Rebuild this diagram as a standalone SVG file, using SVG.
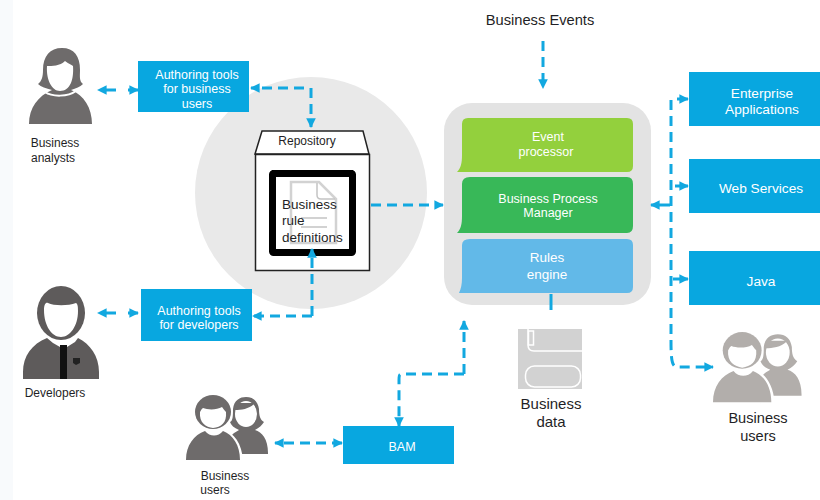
<svg xmlns="http://www.w3.org/2000/svg" width="820" height="500" viewBox="0 0 820 500">
<style>
text{font-family:"Liberation Sans",Arial,sans-serif;text-anchor:middle}
.w{fill:#fff}.d{fill:#1f1f26}
.box{fill:#08a7e0}
.c{fill:none;stroke:#12a8e0;stroke-width:3;stroke-dasharray:10 6}
.g{stroke-dasharray:10 12}
.s{fill:none;stroke:#12a8e0;stroke-width:3}
.l{text-anchor:start}
</style>
<defs>
<marker id="a" viewBox="0 0 10 10" refX="9" refY="5" markerWidth="3.200" markerHeight="3.200" orient="auto-start-reverse"><path d="M0 0L10 5L0 10z" fill="#12a8e0"/></marker>
<g id="pair">
<path d="M44 66V44C46 38 50 37 53 35C48 33 45 30 44 27C47 26 47 20 47 14C48 5 54 2 60 2C67 2 72 6 73 14C73 20 74 25 78 27C76 30 73 33 69 35C76 37 82 44 82 58V59H53Z"/>
<ellipse cx="60" cy="19" rx="11" ry="13" fill="#fff"/>
<path d="M49 15C55 15 63 14 68 9C70 12 71 14 71 17V8H49Z"/>
<path d="M-1 66C-1 48 8 38 20 34C24 40 32 40 37 34C48 38 56 48 57 66Z" fill="#fff"/>
<path d="M0 65C0 50 8 40 19 36C24 42 32 42 37 36C47 40 54 50 54 65Z"/>
<ellipse cx="27" cy="17" rx="18" ry="17"/>
<path d="M14 17C13 28 20 32 27 33C35 32 41 28 40 17C38 15 37 13 36 12C31 15 22 15 17 13C15 14 15 16 14 17Z" fill="#fff"/>
</g>
</defs>
<rect width="820" height="500" fill="#fff"/>
<rect width="13" height="500" fill="#f8fafc"/>
<g id="hub"><circle cx="311" cy="193" r="116" fill="#e9e9e9"/></g>

<g id="analyst" fill="#6e6b6b">
<path d="M29 124C29 108 38 96 52 90C46 88 41 87 38 84C42 81 43 76 43 70C43 56 50 48 62 48C74 48 80 56 80 70C80 76 79 81 83 84C80 87 76 88 71 90C84 95 92 108 92 124Z"/>
<path d="M47 66C52 66 60 66 65 61C69 64 72 65 73 66C74 80 70 91 60 91C52 91 46 80 47 66Z" fill="#fff"/>
<path d="M45 92C52 97 68 97 76 91" fill="none" stroke="#fff" stroke-width="2"/>
<text x="55" y="147" font-size="12" fill="#1f1f26">Business</text>
<text x="53" y="162" font-size="12" fill="#1f1f26">analysts</text>
</g>

<g id="authoring-business"><rect class="box" x="138" y="61" width="111" height="51"/>
<text class="w" x="197" y="79" font-size="12.500">Authoring tools</text><text class="w" x="197" y="93" font-size="12.500">for business</text><text class="w" x="197" y="108" font-size="12.500">users</text></g>

<g id="repository">
<path d="M255 154L262 131H363L369 154Z" fill="#fff" stroke="#222" stroke-width="1.500"/>
<rect x="255.500" y="154.500" width="114" height="116" fill="#fff" stroke="#222" stroke-width="1.500"/>
<text class="d" x="307" y="145" font-size="12">Repository</text>
<rect x="272.500" y="173.500" width="80" height="79" rx="1" fill="#fff" stroke="#000" stroke-width="7"/>
<rect x="272" y="170" width="81" height="7"/>
<path d="M291 182H319L336 199V243H291Z" fill="none" stroke="#d2d2d2" stroke-width="2.500"/>
<path d="M317 183V195Q317 199 321 199H335M301 218H327M301 227H327" fill="none" stroke="#c4c4c4" stroke-width="1.500"/>
<text class="d l" x="282" y="209" font-size="13.500">Business</text>
<text class="d l" x="282" y="225" font-size="13.500">rule</text>
<text class="d l" x="282" y="242" font-size="13.500">definitions</text>
</g>

<g id="developer" fill="#5e5b5b">
<path d="M23 379V372C23 356 32 344 47 338L53 343L60 347V379Z"/>
<path d="M67 379V347L75 342L78 338C90 344 99 356 99 372V379Z"/>
<path d="M60 345H67V379H60Z" fill="#111"/>
<path d="M73 358H80V363L76 365L73 363Z" fill="#222"/>
<ellipse cx="61" cy="313" rx="24" ry="27"/>
<path d="M44 310C44 304 46 302 48 303C54 306 68 306 76 303C78 304 78 308 78 311C78 326 70 337 61 337C52 337 44 326 44 310Z" fill="#fff"/>
<text x="55" y="397" font-size="12" fill="#1f1f26">Developers</text>
</g>

<g id="authoring-developers"><rect class="box" x="141" y="289" width="111" height="52"/>
<text class="w" x="199" y="315" font-size="12.500">Authoring tools</text><text class="w" x="199" y="329" font-size="12.500">for developers</text></g>

<g id="engine-panel"><rect x="444" y="103" width="207" height="202" rx="28" fill="#e3e3e3"/></g>
<g id="event-processor"><path d="M457 172C461 168 462 163 462 155V124Q462 118 468 118H627Q633 118 633 124V166Q633 172 627 172Z" fill="#93d03d"/>
<text class="w" x="548" y="141" font-size="12.500">Event</text><text class="w" x="546" y="156" font-size="12.500">processor</text></g>
<g id="bpm"><path d="M457 233C461 229 462 224 462 216V184Q462 177 470 177H627Q633 177 633 184V226Q633 233 627 233Z" fill="#38b858"/>
<text class="w" x="548" y="203" font-size="12.500">Business Process</text><text class="w" x="548" y="217" font-size="12.500">Manager</text></g>
<g id="rules-engine"><path d="M459 293C461 289 462 284 462 278V245Q462 239 470 239H627Q633 239 633 245V287Q633 293 627 293Z" fill="#62b9e8"/>
<text class="w" x="547" y="262" font-size="13.500">Rules</text><text class="w" x="547" y="279" font-size="13.500">engine</text></g>

<g id="business-events"><text class="d" x="540" y="25" font-size="14.700">Business Events</text></g>

<g id="enterprise"><rect class="box" x="689" y="72" width="131" height="54"/><text class="w" x="762" y="98" font-size="13.700">Enterprise</text><text class="w" x="762" y="114" font-size="13.700">Applications</text></g>
<g id="web"><rect class="box" x="689" y="159" width="131" height="54"/><text class="w" x="761" y="193" font-size="13.700">Web Services</text></g>
<g id="java"><rect class="box" x="689" y="251" width="131" height="54"/><text class="w" x="761" y="286" font-size="13.700">Java</text></g>

<g id="business-data">
<rect x="518" y="329" width="64" height="60" fill="#d2d2d2"/>
<path d="M528 329V345Q528 351 534 351H583" fill="none" stroke="#fff" stroke-width="1.500"/>
<rect x="528.500" y="331" width="5" height="14" fill="none" stroke="#fff" stroke-width="1.500"/>
<rect x="525.500" y="366" width="55" height="21" rx="9" fill="none" stroke="#fff" stroke-width="1.500"/>
<text class="d" x="551" y="409" font-size="15">Business</text><text class="d" x="551" y="427" font-size="15">data</text>
</g>

<g id="users-right" fill="#b2aeab"><use href="#pair" transform="translate(713 332) scale(1.080)"/>
<text class="d" x="758" y="423" font-size="14.600">Business</text><text class="d" x="758" y="441" font-size="14.600">users</text></g>

<g id="users-left" fill="#6e6b6b"><use href="#pair" transform="translate(186 395)"/>
<text class="d" x="225" y="480" font-size="12">Business</text><text class="d" x="215" y="494" font-size="12">users</text></g>

<g id="bam"><rect class="box" x="343" y="426" width="111" height="38"/><text class="w" x="402" y="451" font-size="12.500">BAM</text></g>

<g id="connectors">
<path class="c g" d="M138 90H98" marker-start="url(#a)" marker-end="url(#a)"/>
<path class="c" d="M311 88V127" marker-end="url(#a)"/>
<path class="c" d="M304 88H251" marker-end="url(#a)"/>
<path class="c" d="M371 205H443" marker-end="url(#a)"/>
<path class="c" d="M312 316V249" marker-end="url(#a)"/>
<path class="c" d="M312 316H253" marker-end="url(#a)"/>
<path class="c g" d="M138 313H98" marker-start="url(#a)" marker-end="url(#a)"/>
<path class="c" d="M543 41V88" marker-end="url(#a)"/>
<path class="c" d="M671 100V340C671 362 672 367 678 367H713" marker-end="url(#a)"/>
<path class="s" d="M677 99H688" marker-end="url(#a)"/>
<path class="s" d="M675 186H688" marker-end="url(#a)"/>
<path class="s" d="M673 279H688" marker-end="url(#a)"/>
<path class="s" d="M670 205H651" marker-end="url(#a)"/>
<path class="s" d="M551 294V310"/>
<path class="c" d="M464 374V321" marker-end="url(#a)"/>
<path class="c" d="M464 374H402C399 374 399 376 399 380V426" marker-end="url(#a)"/>
<path class="c" d="M342 443H275" marker-start="url(#a)" marker-end="url(#a)"/>
</g>
</svg>
